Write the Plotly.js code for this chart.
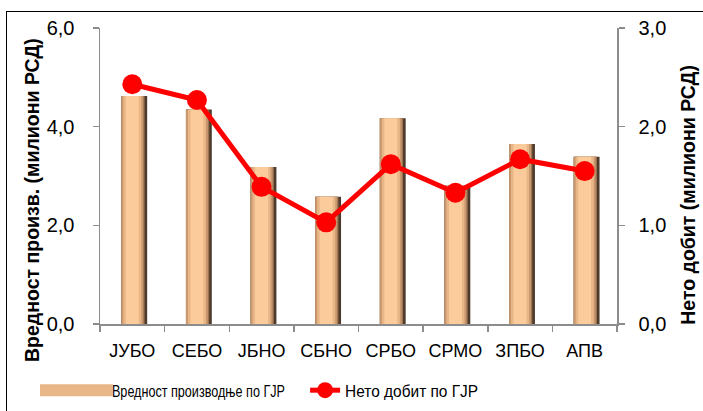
<!DOCTYPE html>
<html><head><meta charset="utf-8">
<script src="https://cdn.plot.ly/plotly-3.0.1.min.js"></script>
<style>
html,body{margin:0;padding:0;background:#fff;overflow:hidden}
#wrap{position:relative;width:703px;height:411px}
#chart{width:703px;height:411px}
#frame{position:absolute;left:6px;top:11px;width:760px;height:460px;border:1.5px solid #000;pointer-events:none;box-sizing:border-box}
</style></head>
<body><div id="wrap"><div id="chart"></div><div id="frame"></div></div>
<script>
const categories = ['ЈУБО','СЕБО','ЈБНО','СБНО','СРБО','СРМО','ЗПБО','АПВ'];
const productionValue = [4.62, 4.35, 3.18, 2.58, 4.17, 2.80, 3.65, 3.39];
const netProfit = [2.43, 2.27, 1.39, 1.03, 1.62, 1.33, 1.67, 1.55];
const barName = 'Вредност производње по ГЈР';
const lineName = 'Нето добит по ГЈР';
const leftTitle = 'Вредност произв. (милиони РСД)';
const rightTitle = 'Нето добит (милиони РСД)';

const FONT = 'Liberation Sans, Arial, sans-serif';

// layered bars to imitate the shaded column look
const layers = [
  {w:0.40, off:-0.17, c:'#4e3a2a'},
  {w:0.36, off:-0.17, c:'#9a7252'},
  {w:0.34, off:-0.17, c:'#c8976e'},
  {w:0.28, off:-0.14, c:'#e9b688'},
  {w:0.20, off:-0.10, c:'#fccb9c'}
];
const traces = layers.map((L,i)=>({
  type:'bar', x:categories, y:productionValue, width:L.w, offset:L.off,
  marker:{color:L.c, line:{width:0}}, name:barName,
  showlegend: i===3, legend:'legend', hoverinfo:'skip', yaxis:'y'
}));
traces.push({
  type:'scatter', mode:'lines+markers', x:categories, y:netProfit, yaxis:'y2',
  name:lineName, legend:'legend2',
  line:{color:'#ff0000', width:5}, marker:{color:'#ff0000', size:20}
});

const axisCommon = {
  showgrid:false, zeroline:false, showline:true, linecolor:'#8c8c8c', linewidth:1.5,
  ticks:'outside', ticklen:6, tickcolor:'#8c8c8c', tickwidth:1.5, automargin:false,
  tickfont:{family:FONT, size:20, color:'#000'}, tickformat:'.1f'
};
const legFont = {family:FONT, size:16.5, color:'#000'};
const titleFont = {family:FONT, size:19.5, color:'#000', weight:'bold'};

const layout = {
  width:703, height:411,
  margin:{l:100, r:86, t:28, b:87, autoexpand:false},
  paper_bgcolor:'#fff', plot_bgcolor:'#fff',
  separators:', ',
  barmode:'overlay',
  font:{family:FONT, color:'#000'},
  xaxis:{showgrid:false, zeroline:false, showline:true, linecolor:'#8c8c8c', linewidth:1.5,
    ticks:'outside', ticklen:6, tickcolor:'#8c8c8c', tickwidth:1.5, tickson:'boundaries',
    ticklabelstandoff:10, tickangle:0, automargin:false,
    tickfont:{family:FONT, size:18, color:'#000'}, range:[-0.5,7.5]},
  yaxis:Object.assign({}, axisCommon, {range:[0,6], dtick:2, ticklabelstandoff:14}),
  yaxis2:Object.assign({}, axisCommon, {range:[0,3], dtick:1, overlaying:'y', side:'right', ticklabelstandoff:10}),
  annotations:[
    {text:leftTitle, textangle:-90, xref:'paper', yref:'paper', x:-0.1315, y:0.419,
     xanchor:'center', yanchor:'middle', showarrow:false, font:titleFont},
    {text:rightTitle, textangle:-90, xref:'paper', yref:'paper', x:1.137, y:0.436,
     xanchor:'center', yanchor:'middle', showarrow:false, font:titleFont}
  ],
  legend:{orientation:'h', xref:'container', yref:'container', x:0.054, xanchor:'left', y:0.05, yanchor:'middle',
    itemwidth:64, font:legFont, bgcolor:'rgba(0,0,0,0)'},
  legend2:{orientation:'h', xref:'container', yref:'container', x:0.434, xanchor:'left', y:0.05, yanchor:'middle',
    font:legFont, bgcolor:'rgba(0,0,0,0)'},
  showlegend:true
};

const targets = {};
targets[barName] = 173; targets[lineName] = 133;
function squeeze(){
  // the reference uses a condensed face for the legend labels
  document.querySelectorAll('#chart svg text').forEach(t=>{
    const w = targets[(t.textContent || '').trim()];
    if (w && t.getAttribute('textLength') !== String(w)) {
      t.setAttribute('textLength', w); t.setAttribute('lengthAdjust', 'spacingAndGlyphs');
    }
  });
  // wider legend keys like the reference, placed just before each label
  document.querySelectorAll('#chart g.traces').forEach(g=>{
    const t = g.querySelector('text.legendtext');
    if (!t) return;
    const tx = t.getBoundingClientRect().left;
    const bar = g.querySelector('.legendpoints path');
    const line = g.querySelector('.legendlines path');
    if (t.textContent.trim() === barName && bar && !bar.dataset.done) {
      const e = bar.getScreenCTM().e;
      const x0 = tx - 72 - e, x1 = tx + 1 - e;
      bar.setAttribute('d', `M${x0},-6H${x1}V6H${x0}Z`);
      bar.dataset.done = '1';
    }
    if (t.textContent.trim() === lineName && line && !line.dataset.done) {
      const e = line.getScreenCTM().e;
      const x0 = tx - 42 - e;
      line.setAttribute('d', `M${x0},0h40`);
      line.dataset.done = '1';
    }
  });
}
const gd = document.getElementById('chart');
Plotly.newPlot(gd, traces, layout, {displayModeBar:false, staticPlot:true}).then(()=>{
  squeeze();
  gd.on && gd.on('plotly_afterplot', squeeze);
  setInterval(squeeze, 25);
});
</script></body></html>
